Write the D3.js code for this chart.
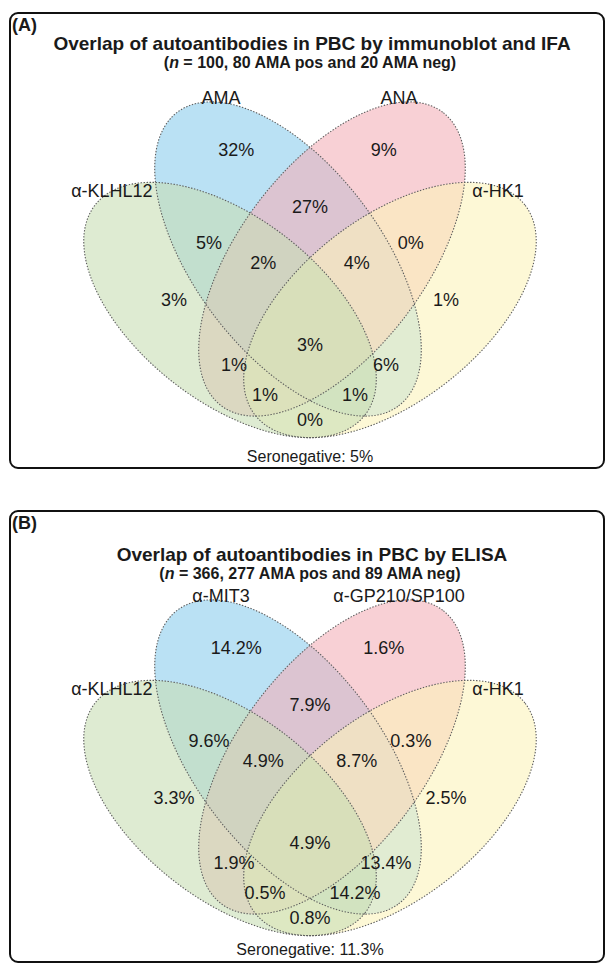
<!DOCTYPE html>
<html>
<head>
<meta charset="utf-8">
<script src="https://cdn.jsdelivr.net/npm/d3@7"></script>
<style>
  body { margin: 0; background: #fff; }
  text { font-family: "Liberation Sans", Arial, Helvetica, sans-serif; fill: #1a1a1a; }
</style>
</head>
<body>
<div id="chart"></div>
<script>
// Region codes: digits are the sets the region belongs to
// set 1 = α-KLHL12, set 2 = AMA / α-MIT3, set 3 = ANA / α-GP210/SP100, set 4 = α-HK1
const regionKeys = ["2", "3", "23", "12", "34", "123", "234", "1", "4", "1234", "13", "24", "134", "124", "14"];

// Panel A: immunoblot and IFA
const setNamesA = ["α-KLHL12", "AMA", "ANA", "α-HK1"];
const valuesA = [32, 9, 27, 5, 0, 2, 4, 3, 1, 3, 1, 6, 1, 1, 0];
const seronegA = 5;

// Panel B: ELISA
const setNamesB = ["α-KLHL12", "α-MIT3", "α-GP210/SP100", "α-HK1"];
const valuesB = [14.2, 1.6, 7.9, 9.6, 0.3, 4.9, 8.7, 3.3, 2.5, 4.9, 1.9, 13.4, 0.5, 14.2, 0.8];
const seronegB = 11.3;

// Layout (diagram units, y up) ------------------------------------------
// ellipses drawn in this order: AMA, ANA, HK1, KLHL12
const ellipses = [
  {set: 2, cx: 0.4577, cy: 0.3481, a: 0.3535, b: 0.179, rot: -53, fill: "#8ccdec"},
  {set: 3, cx: 0.5423, cy: 0.3481, a: 0.3535, b: 0.179, rot: 53, fill: "#f3b1b9"},
  {set: 4, cx: 0.6538, cy: 0.25, a: 0.3288, b: 0.1769, rot: 37.9, fill: "#fcf3bb"},
  {set: 1, cx: 0.3462, cy: 0.25, a: 0.3288, b: 0.1769, rot: -37.9, fill: "#c8ddb4"}
];
const regionPos = {
  "2": [0.358, 0.558], "3": [0.642, 0.558], "23": [0.5, 0.448],
  "12": [0.306, 0.379], "34": [0.694, 0.379],
  "123": [0.41, 0.34], "234": [0.59, 0.34],
  "1": [0.2385, 0.269], "4": [0.7615, 0.269],
  "1234": [0.5, 0.183],
  "13": [0.354, 0.144], "24": [0.646, 0.144],
  "134": [0.4135, 0.0865], "124": [0.5865, 0.0865],
  "14": [0.5, 0.0385]
};
const catPos = [[0.119, 0.479], [0.3288, 0.6577], [0.6712, 0.6577], [0.8615, 0.479]];

const W = 607, H = 963;
const svg = d3.select("#chart").append("svg")
  .attr("width", W)
  .attr("height", H);

const panels = [
  {tag: "(A)", title: "Overlap of autoantibodies in PBC by immunoblot and IFA",
   sub: ["100", "80", "20"], names: setNamesA, values: valuesA, seroneg: seronegA,
   fmt: d => d + "%", top: 13, bottom: 468, base: 440, titleY: 37, seroV: -0.031},
  {tag: "(B)", title: "Overlap of autoantibodies in PBC by ELISA",
   sub: ["366", "277", "89"], names: setNamesB, values: valuesB, seroneg: seronegB,
   fmt: d => d3.format(".1f")(d) + "%", top: 511, bottom: 962, base: 938, titleY: 50, seroV: -0.023}
];

function ellipsePoints(e) {
  const r = e.rot * Math.PI / 180;
  return d3.range(0, 360, 1).map(deg => {
    const t = deg * Math.PI / 180;
    return [e.cx + e.a * Math.cos(t) * Math.cos(r) - e.b * Math.sin(t) * Math.sin(r),
            e.cy + e.a * Math.cos(t) * Math.sin(r) + e.b * Math.sin(t) * Math.cos(r)];
  });
}

panels.forEach(p => {
  const g = svg.append("g");

  const x = d3.scaleLinear().domain([0, 1]).range([50, 570]);
  const y = d3.scaleLinear().domain([0, 1]).range([p.base, p.base - 520]);

  // frame
  g.append("rect")
    .attr("x", 10).attr("y", p.top)
    .attr("width", 594).attr("height", p.bottom - p.top)
    .attr("rx", 8)
    .attr("fill", "none")
    .attr("stroke", "#111")
    .attr("stroke-width", 2);

  g.append("text")
    .attr("x", 12).attr("y", p.top + 18)
    .attr("font-size", 18).attr("font-weight", "bold")
    .text(p.tag);

  g.append("text")
    .attr("x", 312).attr("y", p.top + p.titleY)
    .attr("text-anchor", "middle")
    .attr("font-size", 19).attr("font-weight", "bold")
    .text(p.title);

  const sub = g.append("text")
    .attr("x", 310).attr("y", p.top + p.titleY + 18)
    .attr("text-anchor", "middle")
    .attr("font-size", 16).attr("font-weight", "bold");
  sub.append("tspan").text("(");
  sub.append("tspan").attr("font-style", "italic").text("n");
  sub.append("tspan").text(` = ${p.sub[0]}, ${p.sub[1]} AMA pos and ${p.sub[2]} AMA neg)`);

  const line = d3.line()
    .x(d => x(d[0]))
    .y(d => y(d[1]))
    .curve(d3.curveLinearClosed);

  g.selectAll("path.fill")
    .data(ellipses)
    .join("path")
    .attr("class", "fill")
    .attr("d", e => line(ellipsePoints(e)))
    .attr("fill", e => e.fill)
    .attr("fill-opacity", 0.6)
    .attr("stroke", "none");

  g.selectAll("path.edge")
    .data(ellipses)
    .join("path")
    .attr("class", "edge")
    .attr("d", e => line(ellipsePoints(e)))
    .attr("fill", "none")
    .attr("stroke", "#5e5e5e")
    .attr("stroke-width", 1.1)
    .attr("stroke-dasharray", "1.4,1.6");

  // region percentages
  g.selectAll("text.region")
    .data(regionKeys.map((k, i) => ({key: k, value: p.values[i]})))
    .join("text")
    .attr("class", "region")
    .attr("x", d => x(regionPos[d.key][0]))
    .attr("y", d => y(regionPos[d.key][1]))
    .attr("text-anchor", "middle")
    .attr("dominant-baseline", "central")
    .attr("font-size", 18)
    .text(d => p.fmt(d.value));

  // set names
  g.selectAll("text.cat")
    .data(p.names)
    .join("text")
    .attr("class", "cat")
    .attr("x", (d, i) => x(catPos[i][0]))
    .attr("y", (d, i) => y(catPos[i][1]))
    .attr("text-anchor", "middle")
    .attr("dominant-baseline", "central")
    .attr("font-size", 18)
    .text(d => d);

  g.append("text")
    .attr("x", x(0.5)).attr("y", y(p.seroV))
    .attr("text-anchor", "middle")
    .attr("dominant-baseline", "central")
    .attr("font-size", 16)
    .text("Seronegative: " + p.fmt(p.seroneg));
});
</script>
</body>
</html>
